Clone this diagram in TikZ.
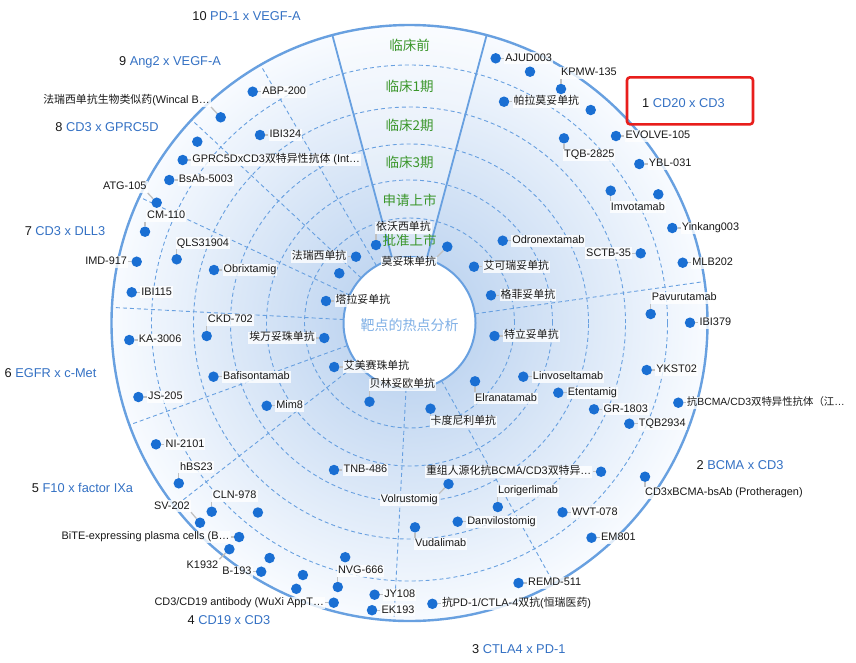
\documentclass[tikz,border=0pt]{standalone}
\usepackage{fontspec}
\setmainfont{Liberation Sans}
\newfontfamily\cjk{Noto Sans CJK SC}
\newcommand{\zh}[1]{{\cjk #1}}
\usetikzlibrary{positioning}

\definecolor{ringline}{RGB}{104,160,224}
\definecolor{dotblue}{RGB}{26,111,211}
\definecolor{leadgrey}{RGB}{192,192,192}
\definecolor{stagegreen}{RGB}{58,150,42}
\definecolor{catblue}{RGB}{52,113,196}
\definecolor{centerblue}{RGB}{128,176,230}
\definecolor{boxred}{RGB}{232,30,28}
\definecolor{ringin}{RGB}{194,215,241}
\definecolor{ringout}{RGB}{248,251,255}
\pgfdeclareradialshading{discshade}{\pgfpoint{0bp}{0bp}}{color(0bp)=(ringin); color(5.5bp)=(ringin); color(25bp)=(ringout); color(50bp)=(ringout)}

\begin{document}
\begin{tikzpicture}[x=1pt, y=-1pt,
  dot/.style={circle, fill=dotblue, inner sep=0pt, minimum size=10.5pt},
  lbl/.style={fill=white, fill opacity=.8, text opacity=1, inner sep=1pt, text height=7.8pt, text depth=2pt, font=\fontsize{10.9}{12}\selectfont, text=black!90},
  lead/.style={draw=leadgrey, line width=1.3pt},
  ring/.style={draw=ringline, dash pattern=on 4pt off 3pt, line width=.9pt},
  sector/.style={draw=ringline, line width=1.8pt},
  stage/.style={text=stagegreen, font=\cjk\fontsize{13.5}{15}\selectfont, inner sep=1pt},
  cat/.style={font=\fontsize{12.8}{15}\selectfont, text=black!90, inner sep=0pt},
  redbox/.style={draw=boxred, line width=2.6pt, rounded corners=3pt, minimum width=126pt, minimum height=47pt}]
\useasboundingbox (0,0) rectangle (856,662);
\fill[white] (0,0) rectangle (856,662);
\coordinate (ctr) at (409.5,323);

% disc and stage rings
\shade[shading=discshade] (ctr) circle[radius=298pt];
\fill[white, opacity=.35] ([shift={(75:298pt)}]ctr) arc[start angle=75, end angle=105, radius=298pt] -- ([shift={(105:66pt)}]ctr) arc[start angle=105, end angle=75, radius=66pt] -- cycle;
\draw[ring] (ctr) circle[radius=258pt];
\draw[ring] (ctr) circle[radius=216pt];
\draw[ring] (ctr) circle[radius=179pt];
\draw[ring] (ctr) circle[radius=143pt];
\draw[ring] (ctr) circle[radius=105pt];

% target sectors
\draw[ring] ([shift={(8:66pt)}]ctr) -- ([shift={(8:298pt)}]ctr);
\draw[ring] ([shift={(-61:66pt)}]ctr) -- ([shift={(-61:298pt)}]ctr);
\draw[ring] ([shift={(267:66pt)}]ctr) -- ([shift={(267:298pt)}]ctr);
\draw[ring] ([shift={(218:66pt)}]ctr) -- ([shift={(218:298pt)}]ctr);
\draw[ring] ([shift={(200:66pt)}]ctr) -- ([shift={(200:298pt)}]ctr);
\draw[ring] ([shift={(177:66pt)}]ctr) -- ([shift={(177:298pt)}]ctr);
\draw[ring] ([shift={(155:66pt)}]ctr) -- ([shift={(155:298pt)}]ctr);
\draw[ring] ([shift={(137:66pt)}]ctr) -- ([shift={(137:298pt)}]ctr);
\draw[ring] ([shift={(120:66pt)}]ctr) -- ([shift={(120:298pt)}]ctr);
\draw[sector] ([shift={(75:66pt)}]ctr) -- ([shift={(75:298pt)}]ctr);
\draw[sector] ([shift={(105:66pt)}]ctr) -- ([shift={(105:298pt)}]ctr);
\draw[draw=ringline, line width=2.4pt] (ctr) circle[radius=298pt];
\draw[draw=ringline, line width=2pt, fill=white] (ctr) circle[radius=66pt];

\node[stage] (pre) at (409.5,45) {临床前};
\node[stage] (ph1) at (409.5,86) {临床1期};
\node[stage] (ph2) at (409.5,125) {临床2期};
\node[stage] (ph3) at (409.5,162) {临床3期};
\node[stage] (nda) at (409.5,200) {申请上市};
\node[stage] (appr) at (409.5,240) {批准上市};
\node[font=\cjk\fontsize{14}{15}\selectfont, text=centerblue] (hub) at (409.5,325) {靶点的热点分析};

% category names
\node[cat] (cat1) at (683.5,103.3) {1 \textcolor{catblue}{CD20 x CD3}};
\node[redbox] (mark) at (690,100.8) {};
\node[cat] (cat2) at (740,465) {2 \textcolor{catblue}{BCMA x CD3}};
\node[cat] (cat3) at (518.8,649.3) {3 \textcolor{catblue}{CTLA4 x PD-1}};
\node[cat] (cat4) at (229,620) {4 \textcolor{catblue}{CD19 x CD3}};
\node[cat] (cat5) at (82.5,488.3) {5 \textcolor{catblue}{F10 x factor IXa}};
\node[cat] (cat6) at (50.5,373.3) {6 \textcolor{catblue}{EGFR x c-Met}};
\node[cat] (cat7) at (65,231) {7 \textcolor{catblue}{CD3 x DLL3}};
\node[cat] (cat8) at (107,127) {8 \textcolor{catblue}{CD3 x GPRC5D}};
\node[cat] (cat9) at (170,62) {9 \textcolor{catblue}{Ang2 x VEGF-A}};
\node[cat] (cat10) at (246.5,16) {10 \textcolor{catblue}{PD-1 x VEGF-A}};

% CD20 x CD3
\node[dot] (d1) at (495.7,58.3) {};
\node[lbl, right=3pt of d1] (t1) {AJUD003};
\draw[lead] (d1) -- (t1);
\node[dot] (d2) at (530,71.7) {};
\node[dot] (d3) at (561,89) {};
\node[lbl, anchor=south west] (t3) at ([xshift=-1pt,yshift=10pt]d3.center) {KPMW-135};
\draw[lead] (d3) -- (d3 |- t3.south);
\node[dot] (d4) at (504,101.7) {};
\node[lbl, right=3pt of d4] (t4) {\zh{帕拉莫妥单抗}};
\draw[lead] (d4) -- (t4);
\node[dot] (d5) at (590.7,110) {};
\node[dot] (d6) at (616,136) {};
\node[lbl, right=3pt of d6] (t6) {EVOLVE-105};
\draw[lead] (d6) -- (t6);
\node[dot] (d7) at (564,138.3) {};
\node[lbl, anchor=north west] (t7) at ([xshift=-1pt,yshift=-10.5pt]d7.center) {TQB-2825};
\draw[lead] (d7) -- (d7 |- t7.north);
\node[dot] (d8) at (639.3,164) {};
\node[lbl, right=3pt of d8] (t8) {YBL-031};
\draw[lead] (d8) -- (t8);
\node[dot] (d9) at (610.7,190.7) {};
\node[lbl, anchor=north west] (t9) at ([xshift=-1pt,yshift=-10.5pt]d9.center) {Imvotamab};
\draw[lead] (d9) -- (d9 |- t9.north);
\node[dot] (d10) at (658.3,194.3) {};
\node[dot] (d11) at (672.3,228) {};
\node[lbl, right=3pt of d11] (t11) {Yinkang003};
\draw[lead] (d11) -- (t11);
\node[dot] (d12) at (502.7,240.7) {};
\node[lbl, right=3pt of d12] (t12) {Odronextamab};
\draw[lead] (d12) -- (t12);
\node[dot] (d13) at (640.7,253.3) {};
\node[lbl, left=3pt of d13] (t13) {SCTB-35};
\draw[lead] (d13) -- (t13);
\node[dot] (d14) at (682.7,262.7) {};
\node[lbl, right=3pt of d14] (t14) {MLB202};
\draw[lead] (d14) -- (t14);
\node[dot] (d15) at (474,266.7) {};
\node[lbl, right=3pt of d15] (t15) {\zh{艾可瑞妥单抗}};
\draw[lead] (d15) -- (t15);
\node[dot] (d16) at (491,295.3) {};
\node[lbl, right=3pt of d16] (t16) {\zh{格菲妥单抗}};
\draw[lead] (d16) -- (t16);
\node[dot] (d17) at (447.3,246.7) {};
\node[lbl, anchor=north east] (t17) at ([xshift=-10pt,yshift=-10pt]d17.center) {\zh{莫妥珠单抗}};
\draw[lead] (d17) -- (t17.north east);

% BCMA x CD3
\node[dot] (d18) at (650.7,314) {};
\node[lbl, anchor=south west] (t18) at ([xshift=0pt,yshift=10pt]d18.center) {Pavurutamab};
\draw[lead] (d18) -- (d18 |- t18.south);
\node[dot] (d19) at (690,322.7) {};
\node[lbl, right=3pt of d19] (t19) {IBI379};
\draw[lead] (d19) -- (t19);
\node[dot] (d20) at (494.5,336) {};
\node[lbl, right=3pt of d20] (t20) {\zh{特立妥单抗}};
\draw[lead] (d20) -- (t20);
\node[dot] (d21) at (646.7,370) {};
\node[lbl, right=3pt of d21] (t21) {YKST02};
\draw[lead] (d21) -- (t21);
\node[dot] (d22) at (678.3,402.7) {};
\node[lbl, right=2pt of d22, font=\fontsize{10.4}{12}\selectfont] (t22) {\zh{抗}BCMA/CD3\zh{双特异性抗体（江}…};
\draw[lead] (d22) -- (t22);
\node[dot] (d23) at (523.3,376.7) {};
\node[lbl, right=3pt of d23] (t23) {Linvoseltamab};
\draw[lead] (d23) -- (t23);
\node[dot] (d24) at (558.3,392.7) {};
\node[lbl, right=3pt of d24] (t24) {Etentamig};
\draw[lead] (d24) -- (t24);
\node[dot] (d25) at (594,409.3) {};
\node[lbl, right=3pt of d25] (t25) {GR-1803};
\draw[lead] (d25) -- (t25);
\node[dot] (d26) at (629.3,423.7) {};
\node[lbl, right=3pt of d26] (t26) {TQB2934};
\draw[lead] (d26) -- (t26);
\node[dot] (d27) at (475,381.3) {};
\node[lbl, anchor=north west] (t27) at ([xshift=-1pt,yshift=-11pt]d27.center) {Elranatamab};
\draw[lead] (d27) -- (d27 |- t27.north);
\node[dot] (d28) at (601,471.7) {};
\node[lbl, left=3pt of d28] (t28) {\zh{重组人源化抗}BCMA/CD3\zh{双特异}…};
\draw[lead] (d28) -- (t28);
\node[dot] (d29) at (645,476.7) {};
\node[lbl, anchor=north west] (t29) at ([xshift=-1pt,yshift=-10pt]d29.center) {CD3xBCMA-bsAb (Protheragen)};
\draw[lead] (d29) -- (d29 |- t29.north);
\node[dot] (d30) at (562.5,512.3) {};
\node[lbl, right=3pt of d30] (t30) {WVT-078};
\draw[lead] (d30) -- (t30);
\node[dot] (d31) at (591.5,537.7) {};
\node[lbl, right=3pt of d31] (t31) {EM801};
\draw[lead] (d31) -- (t31);

% CTLA4 x PD-1
\node[dot] (d32) at (430.5,408.7) {};
\node[lbl, anchor=north west] (t32) at ([xshift=-1pt,yshift=-7pt]d32.center) {\zh{卡度尼利单抗}};
\draw[lead] (d32) -- (d32 |- t32.north);
\node[dot] (d33) at (448.5,484) {};
\node[lbl, anchor=north east] (t33) at ([xshift=-9.5pt,yshift=-9.75pt]d33.center) {Volrustomig};
\draw[lead] (d33) -- (t33.north east);
\node[dot] (d34) at (497.8,507) {};
\node[lbl, anchor=south west] (t34) at ([xshift=-1pt,yshift=10pt]d34.center) {Lorigerlimab};
\draw[lead] (d34) -- (d34 |- t34.south);
\node[dot] (d35) at (457.7,521.7) {};
\node[lbl, right=3pt of d35] (t35) {Danvilostomig};
\draw[lead] (d35) -- (t35);
\node[dot] (d36) at (415,527.3) {};
\node[lbl, anchor=north west] (t36) at ([xshift=-1pt,yshift=-10.5pt]d36.center) {Vudalimab};
\draw[lead] (d36) -- (d36 |- t36.north);
\node[dot] (d37) at (518.5,583) {};
\node[lbl, right=3pt of d37] (t37) {REMD-511};
\draw[lead] (d37) -- (t37);
\node[dot] (d38) at (432.4,603.8) {};
\node[lbl, right=3pt of d38] (t38) {\zh{抗}PD-1/CTLA-4\zh{双抗}(\zh{恒瑞医药})};
\draw[lead] (d38) -- (t38);
\node[dot] (d39) at (374.6,594.7) {};
\node[lbl, right=3pt of d39] (t39) {JY108};
\draw[lead] (d39) -- (t39);
\node[dot] (d40) at (372,610.2) {};
\node[lbl, right=3pt of d40] (t40) {EK193};
\draw[lead] (d40) -- (t40);

% CD19 x CD3
\node[dot] (d41) at (337.8,587) {};
\node[lbl, anchor=south west] (t41) at ([xshift=-1pt,yshift=10pt]d41.center) {NVG-666};
\draw[lead] (d41) -- (d41 |- t41.south);
\node[dot] (d42) at (345.2,557.2) {};
\node[dot] (d43) at (302.9,575) {};
\node[dot] (d44) at (296.3,588.8) {};
\node[dot] (d45) at (333.7,602.7) {};
\node[lbl, left=3pt of d45] (t45) {CD3/CD19 antibody (WuXi AppT…};
\draw[lead] (d45) -- (t45);
\node[dot] (d46) at (334,470) {};
\node[lbl, right=3pt of d46] (t46) {TNB-486};
\draw[lead] (d46) -- (t46);
\node[dot] (d47) at (369.5,401.7) {};
\node[lbl, anchor=south west] (t47) at ([xshift=-1pt,yshift=11pt]d47.center) {\zh{贝林妥欧单抗}};
\draw[lead] (d47) -- (d47 |- t47.south);
\node[dot] (d48) at (261.2,571.7) {};
\node[lbl, left=3pt of d48] (t48) {B-193};
\draw[lead] (d48) -- (t48);
\node[dot] (d49) at (269.6,558) {};
\node[dot] (d50) at (229.4,549.2) {};
\node[lbl, anchor=north east] (t50) at ([xshift=-10pt,yshift=-10pt]d50.center) {K1932};
\draw[lead] (d50) -- (t50.north east);
\node[dot] (d51) at (239.1,537) {};
\node[lbl, left=3pt of d51] (t51) {BiTE-expressing plasma cells (B…};
\draw[lead] (d51) -- (t51);
\node[dot] (d52) at (257.9,512.5) {};
\node[dot] (d53) at (211.7,511.7) {};
\node[lbl, anchor=south west] (t53) at ([xshift=0pt,yshift=10pt]d53.center) {CLN-978};
\draw[lead] (d53) -- (d53 |- t53.south);
\node[dot] (d54) at (200,522.7) {};
\node[lbl, anchor=south east] (t54) at ([xshift=-9pt,yshift=10.5pt]d54.center) {SV-202};
\draw[lead] (d54) -- (t54.south east);

% F10 x factor IXa
\node[dot] (d55) at (156,444.3) {};
\node[lbl, right=3pt of d55] (t55) {NI-2101};
\draw[lead] (d55) -- (t55);
\node[dot] (d56) at (178.8,483.3) {};
\node[lbl, anchor=south west] (t56) at ([xshift=0pt,yshift=10pt]d56.center) {hBS23};
\draw[lead] (d56) -- (d56 |- t56.south);
\node[dot] (d57) at (266.7,405.8) {};
\node[lbl, right=3pt of d57] (t57) {Mim8};
\draw[lead] (d57) -- (t57);
\node[dot] (d58) at (334.2,367) {};
\node[lbl, right=3pt of d58] (t58) {\zh{艾美赛珠单抗}};
\draw[lead] (d58) -- (t58);

% EGFR x c-Met
\node[dot] (d59) at (129.3,340) {};
\node[lbl, right=3pt of d59] (t59) {KA-3006};
\draw[lead] (d59) -- (t59);
\node[dot] (d60) at (138.4,397) {};
\node[lbl, right=3pt of d60] (t60) {JS-205};
\draw[lead] (d60) -- (t60);
\node[dot] (d61) at (213.5,376.7) {};
\node[lbl, right=3pt of d61] (t61) {Bafisontamab};
\draw[lead] (d61) -- (t61);
\node[dot] (d62) at (206.7,336) {};
\node[lbl, anchor=south west] (t62) at ([xshift=0pt,yshift=10pt]d62.center) {CKD-702};
\draw[lead] (d62) -- (d62 |- t62.south);
\node[dot] (d63) at (324.3,338) {};
\node[lbl, left=3pt of d63] (t63) {\zh{埃万妥珠单抗}};
\draw[lead] (d63) -- (t63);

% CD3 x DLL3
\node[dot] (d64) at (131.7,292.3) {};
\node[lbl, right=3pt of d64] (t64) {IBI115};
\draw[lead] (d64) -- (t64);
\node[dot] (d65) at (136.7,261.7) {};
\node[lbl, left=3pt of d65] (t65) {IMD-917};
\draw[lead] (d65) -- (t65);
\node[dot] (d66) at (176.7,259.3) {};
\node[lbl, anchor=south west] (t66) at ([xshift=-1pt,yshift=10pt]d66.center) {QLS31904};
\draw[lead] (d66) -- (d66 |- t66.south);
\node[dot] (d67) at (214,270) {};
\node[lbl, right=3pt of d67] (t67) {Obrixtamig};
\draw[lead] (d67) -- (t67);
\node[dot] (d68) at (145,231.7) {};
\node[lbl, anchor=south west] (t68) at ([xshift=1pt,yshift=10pt]d68.center) {CM-110};
\draw[lead] (d68) -- (d68 |- t68.south);
\node[dot] (d69) at (326,301) {};
\node[lbl, right=3pt of d69] (t69) {\zh{塔拉妥单抗}};
\draw[lead] (d69) -- (t69);

% CD3 x GPRC5D
\node[dot] (d70) at (156.7,202.7) {};
\node[lbl, anchor=south east] (t70) at ([xshift=-9pt,yshift=9.75pt]d70.center) {ATG-105};
\draw[lead] (d70) -- (t70.south east);
\node[dot] (d71) at (169.3,180) {};
\node[lbl, right=3pt of d71] (t71) {BsAb-5003};
\draw[lead] (d71) -- (t71);
\node[dot] (d72) at (182.7,160) {};
\node[lbl, right=3pt of d72] (t72) {GPRC5DxCD3\zh{双特异性抗体} (Int…};
\draw[lead] (d72) -- (t72);
\node[dot] (d73) at (197.3,141.7) {};
\node[dot] (d74) at (339.3,273.3) {};

% Ang2 x VEGF-A
\node[dot] (d75) at (220.7,117.3) {};
\node[lbl, anchor=south east] (t75) at ([xshift=-9.7pt,yshift=10.3pt]d75.center) {\zh{法瑞西单抗生物类似药}(Wincal B…};
\draw[lead] (d75) -- (t75.south east);
\node[dot] (d76) at (260,135) {};
\node[lbl, right=3pt of d76] (t76) {IBI324};
\draw[lead] (d76) -- (t76);
\node[dot] (d77) at (356,256.7) {};
\node[lbl, left=3pt of d77] (t77) {\zh{法瑞西单抗}};
\draw[lead] (d77) -- (t77);

% PD-1 x VEGF-A
\node[dot] (d78) at (252.7,91.7) {};
\node[lbl, right=3pt of d78] (t78) {ABP-200};
\draw[lead] (d78) -- (t78);
\node[dot] (d79) at (376,245) {};
\node[lbl, anchor=south west] (t79) at ([xshift=-1pt,yshift=11pt]d79.center) {\zh{依沃西单抗}};
\draw[lead] (d79) -- (d79 |- t79.south);
\end{tikzpicture}
\end{document}
